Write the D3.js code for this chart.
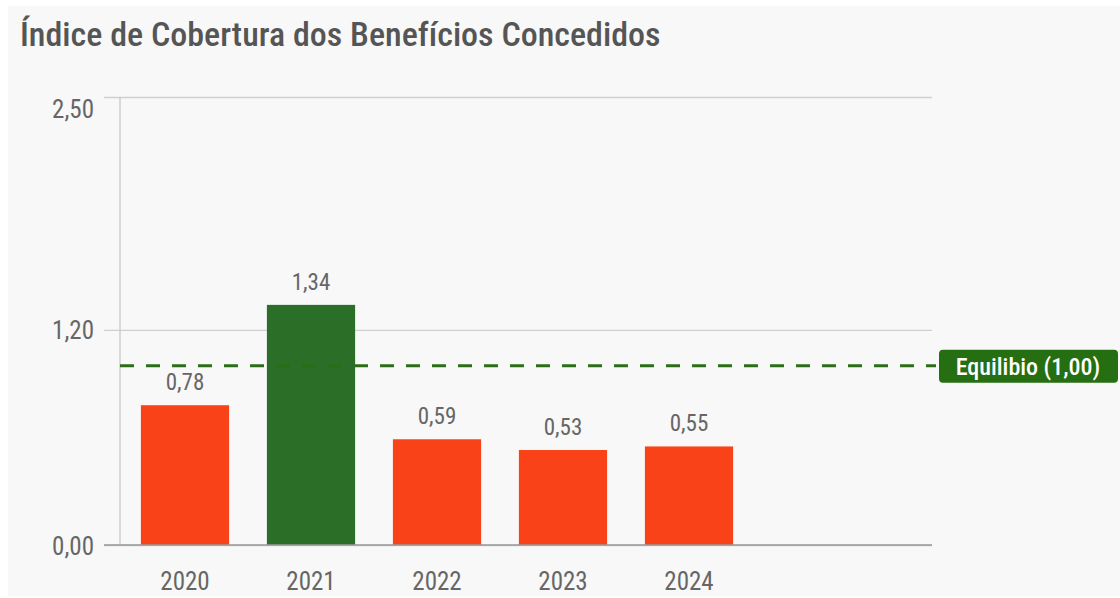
<!DOCTYPE html>
<html>
<head>
<meta charset="utf-8">
<script src="https://cdn.jsdelivr.net/npm/d3@7"></script>
<style>
  body { margin: 0; background: #fff; }
  svg text { font-family: "Roboto Condensed", "Liberation Sans Narrow", "DejaVu Sans Condensed", Roboto, sans-serif; font-stretch: condensed; }
</style>
</head>
<body>
<div id="chart"></div>
<script>
// chart data
const years = ["2020", "2021", "2022", "2023", "2024"]
const values = [0.78, 1.34, 0.59, 0.53, 0.55]
const yTicks = [0, 1.2, 2.5]
const balance = 1.0
const balanceLabel = "Equilibio (1,00)"
const title = "Índice de Cobertura dos Benefícios Concedidos"

const width = 1120
const height = 598

const svg = d3.select("#chart")
  .append("svg")
    .attr("width", width)
    .attr("height", height);

// panel background
svg.append("rect")
  .attr("x", 8).attr("y", 6)
  .attr("width", width - 8).attr("height", 590)
  .attr("fill", "#f8f8f8");

svg.append("text")
  .attr("x", 20).attr("y", 46)
  .attr("font-size", 34)
  .attr("font-weight", 500)
  .attr("fill", "#555")
  .text(title);

const x = d3.scaleBand()
  .domain(years)
  .range([122, 752])
  .paddingInner(0.3)
  .paddingOuter(0.15);

const y = d3.scaleLinear()
  .domain([0, 2.5])
  .range([545, 97]);

const fmt = v => d3.format(".2f")(v).replace(".", ",");

// gridlines + y labels
const yAxis = svg.append("g")
  .attr("transform", "translate(932,0)")
  .call(d3.axisLeft(y).tickValues(yTicks).tickSize(828).tickFormat(fmt));
yAxis.select(".domain").remove();
yAxis.selectAll(".tick line").attr("stroke", "#d0d0d0").attr("stroke-width", 1.3);
yAxis.selectAll(".tick text")
  .attr("x", -838)
  .attr("dy", d => d === 2.5 ? "0.8em" : "0.36em")
  .attr("font-size", 25)
  .attr("fill", "#666");

// vertical axis line
svg.append("line")
  .attr("x1", 120).attr("x2", 120)
  .attr("y1", y(2.5)).attr("y2", y(0))
  .attr("stroke", "#c8c8c8").attr("stroke-width", 1.3);

// bars
svg.selectAll("rect.bar")
  .data(years)
  .join("rect")
    .attr("class", "bar")
    .attr("x", d => x(d))
    .attr("y", (d, i) => y(values[i]))
    .attr("width", x.bandwidth())
    .attr("height", (d, i) => y(0) - y(values[i]))
    .attr("fill", (d, i) => values[i] >= balance ? "#2a6e27" : "#f94218");

// baseline
svg.append("line")
  .attr("x1", 104).attr("x2", 932)
  .attr("y1", y(0)).attr("y2", y(0))
  .attr("stroke", "#999").attr("stroke-width", 1.3);

// value labels
svg.selectAll("text.val")
  .data(years)
  .join("text")
    .attr("class", "val")
    .attr("x", d => x(d) + x.bandwidth() / 2)
    .attr("y", (d, i) => y(values[i]) - 15)
    .attr("text-anchor", "middle")
    .attr("font-size", 23)
    .attr("fill", "#666")
    .text((d, i) => fmt(values[i]));

// x labels
svg.selectAll("text.year")
  .data(years)
  .join("text")
    .attr("class", "year")
    .attr("x", d => x(d) + x.bandwidth() / 2)
    .attr("y", 590)
    .attr("text-anchor", "middle")
    .attr("font-size", 25)
    .attr("fill", "#666")
    .text(d => d);

// balance line
svg.append("line")
  .attr("x1", 120).attr("x2", 936)
  .attr("y1", y(balance)).attr("y2", y(balance))
  .attr("stroke", "#2a6e1a")
  .attr("stroke-width", 3)
  .attr("stroke-dasharray", "14,12");

const lbl = svg.append("g").attr("transform", `translate(939,${y(balance)})`);
lbl.append("rect")
  .attr("x", 0).attr("y", -16)
  .attr("width", 179).attr("height", 33)
  .attr("rx", 4)
  .attr("fill", "#256e12");
lbl.append("text")
  .attr("x", 89).attr("y", 9)
  .attr("text-anchor", "middle")
  .attr("font-size", 24)
  .attr("font-weight", 500)
  .attr("fill", "#fff")
  .text(balanceLabel);
</script>
</body>
</html>
